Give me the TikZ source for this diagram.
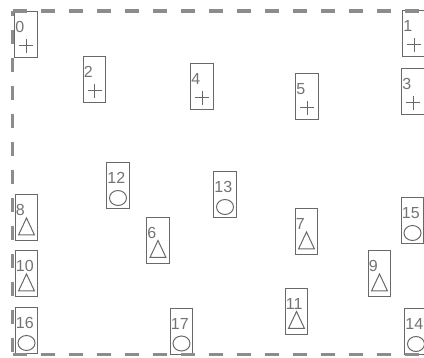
\documentclass[tikz,border=0pt]{standalone}
\usepackage{fontspec}
\setmainfont{Liberation Sans}
\usetikzlibrary{shapes.geometric}
\definecolor{framegray}{RGB}{140,140,140}
\definecolor{boxgray}{RGB}{105,105,105}
\definecolor{numgray}{RGB}{115,115,115}
% symbols drawn below the number of a unit box
\newcommand{\crossmark}[1]{\draw[sym] ([shift={(-7,11)}]#1.center) -- ++(14,0) ([shift={(0,4)}]#1.center) -- ++(0,14);}
\newcommand{\ringmark}[1]{\node[ring] at ([shift={(0,12)}]#1.center) {};}
\newcommand{\trimark}[1]{\draw[sym] ([shift={(-8,17)}]#1.center) -- ([shift={(0,0)}]#1.center) -- ([shift={(8,17)}]#1.center) -- cycle;}
\newcommand{\unit}[5]{%
  \node[box] (#1) at (#2,#3) {};
  \node[num] (#1n) at ([shift={(1,10)}]#1.north west) {#4};
  #5{#1}}

\begin{document}
\begin{tikzpicture}[
      x=1pt, y=-1pt,
      box/.style={draw=boxgray, line width=1pt, minimum width=22.5pt, minimum height=46pt, inner sep=0pt},
      num/.style={anchor=north west, inner sep=0pt, text=numgray, font=\fontsize{16}{16}\selectfont},
      sym/.style={draw=boxgray, line width=1pt},
      ring/.style={ellipse, draw=boxgray, line width=1pt, minimum width=17pt, minimum height=15pt, inner sep=0pt},
      frame/.style={draw=framegray, line width=3.5pt, dash pattern=on 14pt off 14pt}
    ]
      \useasboundingbox (0,0) rectangle (424,358);
      \unit{u0}{26}{35}{0}{\crossmark}
      \unit{u1}{414}{34}{1}{\crossmark}
      \unit{u2}{94.5}{80}{2}{\crossmark}
      \unit{u3}{413}{92}{3}{\crossmark}
      \unit{u4}{202}{87}{4}{\crossmark}
      \unit{u5}{307}{97}{5}{\crossmark}
      \unit{u6}{158}{240.5}{6}{\trimark}
      \unit{u7}{306.5}{232}{7}{\trimark}
      \unit{u8}{26.5}{218}{8}{\trimark}
      \unit{u9}{379.5}{274}{9}{\trimark}
      \unit{u10}{26.5}{274}{10}{\trimark}
      \unit{u11}{296.5}{311.5}{11}{\trimark}
      \unit{u12}{118}{186}{12}{\ringmark}
      \unit{u13}{225}{195}{13}{\ringmark}
      \unit{u14}{416}{332}{14}{\ringmark}
      \unit{u15}{412.5}{221}{15}{\ringmark}
      \unit{u16}{26.5}{331}{16}{\ringmark}
      \unit{u17}{181.5}{331.5}{17}{\ringmark}
      % dashed border, right side lies past the page
      \draw[frame] (12.5,11) -- (440,11);
      \draw[frame, dash phase=9pt] (12.5,11) -- (12.5,354.5);
      \draw[frame] (12.5,354.5) -- (440,354.5);
    \end{tikzpicture}
\end{document}
